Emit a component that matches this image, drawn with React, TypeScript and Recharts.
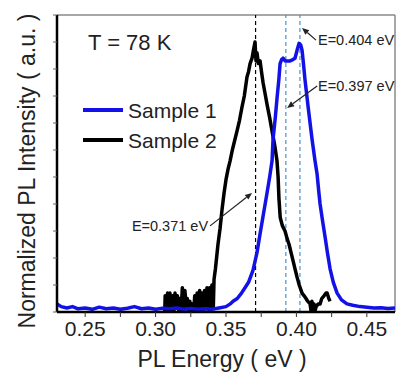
import React from "react";
import { LineChart, Line, XAxis, YAxis, ReferenceLine } from "recharts";

// ---- data ----
const sample1Name = "Sample 1";
const sample2Name = "Sample 2";

// Sample 1 (blue): [energy eV, normalized intensity]
const sample1Energy = [
  0.23, 0.233, 0.237, 0.241, 0.245, 0.25, 0.255, 0.26, 0.265, 0.27, 0.275, 0.28, 0.285, 0.29, 0.295, 0.3,
  0.305, 0.31, 0.315, 0.32, 0.325, 0.33, 0.335, 0.34, 0.345, 0.35, 0.353, 0.355, 0.358, 0.361, 0.3635,
  0.366, 0.3692, 0.372, 0.3742, 0.3765, 0.3791, 0.381, 0.3827, 0.3834, 0.385, 0.3862, 0.3875, 0.3884,
  0.3895, 0.3905, 0.392, 0.3933, 0.3955, 0.3975, 0.399, 0.4005, 0.4019, 0.403, 0.404, 0.405, 0.4061,
  0.4072, 0.4083, 0.4097, 0.4111, 0.4132, 0.4147, 0.4158, 0.4168, 0.4185, 0.4203, 0.422, 0.4239, 0.4262,
  0.4289, 0.432, 0.4359, 0.44, 0.4452, 0.45, 0.455, 0.46, 0.465, 0.47,
];
const sample1Intensity = [
  0.03, 0.02, 0.015, 0.02, 0.012, 0.015, 0.01, 0.018, 0.012, 0.015, 0.01, 0.014, 0.02, 0.012, 0.015, 0.01,
  0.014, 0.012, 0.015, 0.01, 0.013, 0.01, 0.012, 0.01, 0.015, 0.02, 0.03, 0.04, 0.05, 0.07, 0.09,
  0.11, 0.155, 0.22, 0.29, 0.36, 0.44, 0.5, 0.56, 0.64, 0.72, 0.79, 0.86, 0.92,
  0.935, 0.94, 0.93, 0.93, 0.93, 0.935, 0.94, 0.97, 0.995, 0.99, 0.97, 0.92, 0.86,
  0.81, 0.76, 0.7, 0.64, 0.56, 0.51, 0.45, 0.4, 0.34, 0.28, 0.22, 0.16, 0.11,
  0.07, 0.045, 0.03, 0.025, 0.02, 0.018, 0.015, 0.016, 0.013, 0.015,
];

// Sample 2 (black)
const sample2Energy = [
  0.3065, 0.3068, 0.3078, 0.3085, 0.3095, 0.3102, 0.3112, 0.312, 0.313, 0.3138, 0.3148, 0.3155, 0.3165,
  0.3172, 0.3182, 0.319, 0.32, 0.3208, 0.3218, 0.3225, 0.3235, 0.3243, 0.3253, 0.326, 0.327, 0.3278,
  0.3288, 0.3295, 0.3305, 0.3313, 0.3323, 0.333, 0.334, 0.3348, 0.3358, 0.3365, 0.3375, 0.3383, 0.3393,
  0.34, 0.341, 0.3415, 0.3425, 0.3443, 0.3458, 0.3472, 0.3486, 0.35, 0.3515, 0.3529, 0.3545, 0.3578,
  0.3596, 0.3614, 0.363, 0.3649, 0.366, 0.3671, 0.3685, 0.3695, 0.3706, 0.3713, 0.372, 0.373, 0.3742,
  0.3752, 0.3763, 0.3777, 0.3791, 0.381, 0.3827, 0.3845, 0.3862, 0.387, 0.3876, 0.3885, 0.39, 0.3919,
  0.3935, 0.3948, 0.3962, 0.3976, 0.399, 0.4004, 0.402, 0.404, 0.4055, 0.4068, 0.408, 0.4097, 0.4105,
  0.411, 0.4118, 0.4125, 0.413, 0.414, 0.4155, 0.4168, 0.418, 0.4196, 0.421, 0.4218, 0.423, 0.4239,
];
const sample2Intensity = [
  0.0, 0.06, 0.01, 0.07, 0.0, 0.07, 0.01, 0.06, 0.0, 0.07, 0.02, 0.06, 0.0,
  0.05, 0.01, 0.09, 0.0, 0.08, 0.02, 0.05, 0.0, 0.04, 0.01, 0.03, 0.0, 0.06,
  0.01, 0.07, 0.0, 0.08, 0.01, 0.07, 0.0, 0.08, 0.02, 0.09, 0.01, 0.09, 0.0,
  0.1, 0.02, 0.12, 0.16, 0.25, 0.31, 0.38, 0.44, 0.49, 0.53, 0.56, 0.6, 0.67,
  0.71, 0.76, 0.8, 0.87, 0.89, 0.92, 0.94, 0.97, 1.0, 0.93, 0.96, 0.92, 0.93,
  0.89, 0.85, 0.81, 0.77, 0.72, 0.67, 0.62, 0.56, 0.5, 0.42, 0.35, 0.32, 0.3,
  0.27, 0.25, 0.22, 0.19, 0.16, 0.13, 0.1, 0.07, 0.06, 0.05, 0.04, 0.03, 0.0,
  0.04, 0.0, 0.03, 0.0, 0.02, 0.03, 0.03, 0.05, 0.06, 0.07, 0.07, 0.05, 0.04,
];

const xTicks = [0.25, 0.275, 0.3, 0.325, 0.35, 0.375, 0.4, 0.425, 0.45];
const xLabelTicks = ["0.25", "0.30", "0.35", "0.40", "0.45"];
const yTicks = [0, 0.1, 0.2, 0.3, 0.4, 0.5, 0.6, 0.7, 0.8, 0.9, 1.0, 1.1];
const xDomain = [0.23, 0.47];
const yDomain = [0, 1.1];

// dashed guide lines (energy positions as drawn)
const peakLineEnergies = [0.371, 0.3925, 0.4025];
const peakLineSeries = ["s2", "s1", "s1"];

// arrow annotations: label, tail point, head point (energy, intensity)
const annotationLabels = ["E=0.404 eV", "E=0.397 eV", "E=0.371 eV"];
const annotationTail = [
  [0.4139, 1.007],
  [0.4147, 0.837],
  [0.3387, 0.319],
];
const annotationHead = [
  [0.404, 1.052],
  [0.3934, 0.756],
  [0.3685, 0.441],
];

const titleText = "T = 78 K";
const xTitle = "PL Energy ( eV )";
const yTitle = "Normalized PL Intensity ( a.u. )";

// ---- styles ----
const FONT = "'Liberation Sans', Arial, sans-serif";
const BLUE = "#1212e8";
const BLACK = "#000000";
const GUIDE_BLUE = "#4a90d0";
const labelStyles = [
  { dx: 2, dy: 5, anchor: "start" },
  { dx: 1, dy: 5, anchor: "start" },
  { dx: -2, dy: 5, anchor: "end" },
];

const s1Data = sample1Energy.map((e, i) => ({ e, v: sample1Intensity[i] }));
const s2Data = sample2Energy.map((e, i) => ({ e, v: sample2Intensity[i] }));

const makeArrow = (text: string, st: { dx: number; dy: number; anchor: string }) => (props: any) => {
  const { x1, y1, x2, y2 } = props;
  const ang = Math.atan2(y2 - y1, x2 - x1);
  const L = 7;
  const W = 3;
  const bx = x2 - L * Math.cos(ang);
  const by = y2 - L * Math.sin(ang);
  const px = -Math.sin(ang) * W;
  const py = Math.cos(ang) * W;
  return (
    <g>
      <line x1={x1} y1={y1} x2={bx} y2={by} stroke="#222" strokeWidth={1.2} />
      <polygon points={`${x2},${y2} ${bx + px},${by + py} ${bx - px},${by - py}`} fill="#222" />
      <text
        x={x1 + st.dx}
        y={y1 + st.dy}
        textAnchor={st.anchor as any}
        fontFamily={FONT}
        fontSize={14.5}
        fill="#222"
      >
        {text}
      </text>
    </g>
  );
};

const fmtX = (v: number) => {
  const s = v.toFixed(2);
  return xLabelTicks.includes(s) && Math.round(v * 1000) % 50 === 0 ? s : "";
};

const legendItems = [
  { name: sample1Name, color: BLUE },
  { name: sample2Name, color: BLACK },
];

export default function App() {
  return (
    <div style={{ position: "absolute", left: 0, top: 0, width: 398, height: 379, background: "#fff" }}>
      <LineChart
        width={398}
        height={379}
        margin={{ top: 15, right: 3, left: 0, bottom: 0 }}
        style={{ fontFamily: FONT }}
      >
        <XAxis
          type="number"
          dataKey="e"
          domain={xDomain}
          ticks={xTicks}
          allowDataOverflow
          height={67}
          tickFormatter={fmtX}
          tick={{ fontSize: 21, fill: "#222", fontFamily: FONT }}
          tickSize={5}
          tickMargin={4}
          axisLine={{ stroke: "#000", strokeWidth: 2.5 }}
          tickLine={{ stroke: "#333" }}
          interval={0}
        />
        <YAxis
          type="number"
          domain={yDomain}
          ticks={yTicks}
          allowDataOverflow
          width={57}
          tickFormatter={() => ""}
          tick={{ fontSize: 10 }}
          tickSize={4}
          interval={0}
          axisLine={{ stroke: "#000", strokeWidth: 2.5 }}
          tickLine={{ stroke: "#666" }}
        />
        <ReferenceLine y={yDomain[1]} stroke="#8a8a8a" strokeWidth={1.5} />
        <ReferenceLine x={xDomain[1]} stroke="#8a8a8a" strokeWidth={1.5} />
        {peakLineEnergies.map((e, i) => (
          <ReferenceLine
            key={"pl" + i}
            x={e}
            stroke={peakLineSeries[i] === "s2" ? "#000" : GUIDE_BLUE}
            strokeWidth={1.2}
            strokeDasharray="4 3"
          />
        ))}
        <Line
          data={s2Data}
          dataKey="v"
          name={sample2Name}
          stroke={BLACK}
          strokeWidth={3.5}
          dot={false}
          type="linear"
          isAnimationActive={false}
          strokeLinejoin="round"
        />
        <Line
          data={s1Data}
          dataKey="v"
          name={sample1Name}
          stroke={BLUE}
          strokeWidth={3.5}
          dot={false}
          type="linear"
          isAnimationActive={false}
          strokeLinejoin="round"
        />
        {annotationLabels.map((lab, i) => (
          <ReferenceLine
            key={"an" + i}
            segment={[
              { x: annotationTail[i][0], y: annotationTail[i][1] },
              { x: annotationHead[i][0], y: annotationHead[i][1] },
            ]}
            stroke="#222"
            shape={makeArrow(lab, labelStyles[i])}
          />
        ))}
      </LineChart>
      <svg
        width={398}
        height={379}
        style={{ position: "absolute", left: 0, top: 0, pointerEvents: "none" }}
      >
        <text x={88} y={50} fontFamily={FONT} fontSize={22} fill="#222">
          {titleText}
        </text>
        {legendItems.map((it, i) => (
          <g key={it.name}>
            <line x1={83} x2={123} y1={110 + i * 30} y2={110 + i * 30} stroke={it.color} strokeWidth={4} />
            <text x={128} y={117.5 + i * 30} fontFamily={FONT} fontSize={21} fill="#222">
              {it.name}
            </text>
          </g>
        ))}
        <text x={222} y={367} textAnchor="middle" fontFamily={FONT} fontSize={23} fill="#222">
          {xTitle}
        </text>
        <text
          x={0}
          y={0}
          transform="translate(35,171) rotate(-90)"
          textAnchor="middle"
          fontFamily={FONT}
          fontSize={23}
          fill="#222"
        >
          {yTitle}
        </text>
      </svg>
    </div>
  );
}
